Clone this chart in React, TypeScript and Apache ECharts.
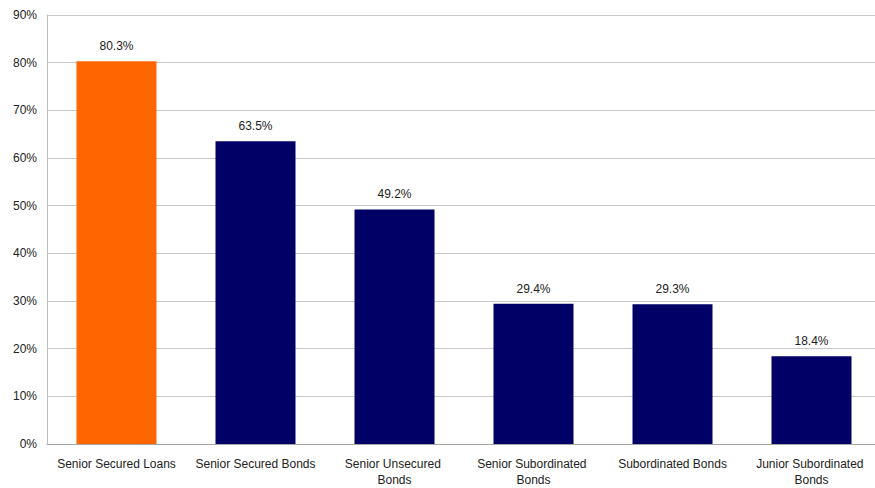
import React, { useEffect, useRef } from "react";
import * as echarts from "echarts";

const categories = [
  "Senior Secured Loans",
  "Senior Secured Bonds",
  "Senior Unsecured Bonds",
  "Senior Subordinated Bonds",
  "Subordinated Bonds",
  "Junior Subordinated Bonds",
];
const recoveryRates = [80.3, 63.5, 49.2, 29.4, 29.3, 18.4];
const barColors = ["#FF6600", "#000066", "#000066", "#000066", "#000066", "#000066"];
const yTicks = [0, 10, 20, 30, 40, 50, 60, 70, 80, 90];

const FONT = "'Liberation Sans', Arial, sans-serif";

export default function App() {
  const ref = useRef<HTMLDivElement>(null);

  useEffect(() => {
    if (!ref.current) return;
    const chart = echarts.init(ref.current, null, { renderer: "svg" });
    chart.setOption({
      animation: false,
      backgroundColor: "#ffffff",
      grid: { left: 47, top: 15, bottom: 43, right: 0, containLabel: false },
      xAxis: {
        type: "category",
        data: categories,
        axisLine: { show: true, lineStyle: { color: "#a6a6a6", width: 1 } },
        axisTick: { show: false },
        axisLabel: {
          interval: 0,
          margin: 12,
          color: "#222222",
          fontFamily: FONT,
          fontSize: 12,
          lineHeight: 16,
          width: 125,
          overflow: "break",
        },
      },
      yAxis: {
        type: "value",
        min: yTicks[0],
        max: yTicks[yTicks.length - 1],
        interval: 10,
        axisLine: { show: true, lineStyle: { color: "#bdbdbd", width: 1 } },
        axisTick: { show: false },
        axisLabel: {
          margin: 10,
          color: "#222222",
          fontFamily: FONT,
          fontSize: 12,
          formatter: (v: number) => `${v}%`,
        },
        splitLine: { show: true, lineStyle: { color: "#c8c8c8", width: 1 } },
      },
      series: [
        {
          type: "bar",
          barWidth: 80,
          data: recoveryRates.map((v, i) => ({ value: v, itemStyle: { color: barColors[i] } })),
          label: {
            show: true,
            position: "top",
            distance: 9,
            color: "#222222",
            fontFamily: FONT,
            fontSize: 12,
            formatter: (p: any) => `${p.value.toFixed(1)}%`,
          },
        },
      ],
    });
    return () => chart.dispose();
  }, []);

  return (
    <div
      style={{
        position: "fixed",
        left: 0,
        top: 0,
        width: 875,
        height: 488,
        overflow: "hidden",
        background: "#fff",
      }}
    >
      <div ref={ref} style={{ width: 881, height: 488 }} />
    </div>
  );
}
